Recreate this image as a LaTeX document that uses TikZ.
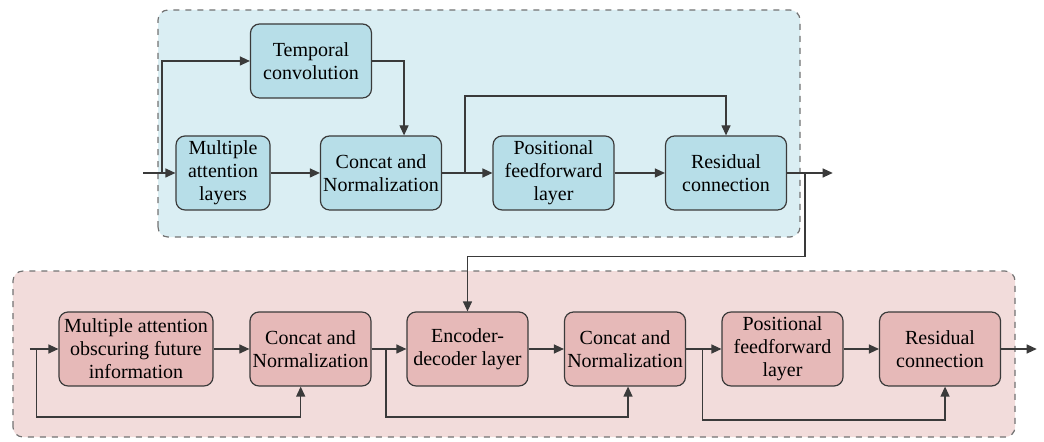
\documentclass[tikz,border=0pt]{standalone}
\usepackage{fontspec}
\setmainfont{LiberationSerif}[Extension=.ttf,UprightFont=*-Regular,BoldFont=*-Bold]
\usetikzlibrary{arrows.meta}
\definecolor{encback}{HTML}{DAEEF3}
\definecolor{encnode}{HTML}{B7DEE8}
\definecolor{decback}{HTML}{F2DCDB}
\definecolor{decnode}{HTML}{E6B9B8}
\definecolor{lncol}{HTML}{3A3A3A}
\begin{document}
\begin{tikzpicture}[
    font=\fontsize{10}{11.5}\selectfont,
    blk/.style={draw=lncol,line width=0.6pt,rounded corners=4.5pt,align=center,
      minimum width=2.126cm,minimum height=1.300cm,inner sep=1pt},
    encblk/.style={blk,fill=encnode},
    decblk/.style={blk,fill=decnode},
    group/.style={draw=gray!90!black,dashed,line width=0.6pt,rounded corners=5pt},
    arr/.style={draw=lncol,line width=0.6pt,-{Triangle[length=5pt,width=4.5pt]}},
    ln/.style={draw=lncol,line width=0.6pt}]
    \useasboundingbox (0,0) rectangle (18.346,7.750);
    % dashed group boxes
    \draw[group,fill=encback] (2.777,3.585) rectangle (14.058,7.574);
    \draw[group,fill=decback] (0.228,0.070) rectangle (17.837,2.987);
    % encoder
    \node[encblk] (tc) at (5.465,6.678){Temporal\\convolution};
    \node[encblk,minimum width=1.652cm] (ma) at (3.919,4.710){Multiple\\attention\\layers};
    \node[encblk] (cn) at (6.695,4.710){Concat and\\Normalization};
    \node[encblk] (pf) at (9.727,4.710){Positional\\feedforward\\layer};
    \node[encblk] (rc) at (12.758,4.710){Residual\\connection};
    \coordinate (ein) at (2.513,4.710);
    \coordinate (esp) at (2.847,4.710);
    \coordinate (eout) at (14.633,4.710);
    \coordinate (esk) at (8.171,4.710);
    \coordinate (etop) at (8.171,6.063);
    \coordinate (edn) at (14.146,4.710);
    \coordinate (elow) at (14.146,3.239);
    \draw[arr] (ein) -- (ma.west);
    \draw[arr] (esp) |- (tc.west);
    \draw[arr] (tc.east) -| ([xshift=0.405cm]cn.north);
    \draw[arr] (ma.east) -- (cn.west);
    \draw[arr] (cn.east) -- (pf.west);
    \draw[arr] (esk) -- (etop) -| (rc.north);
    \draw[arr] (pf.east) -- (rc.west);
    \draw[arr] (rc.east) -- (eout);
    % decoder
    \node[decblk,minimum width=2.706cm] (mo) at (2.390,1.617){Multiple attention\\obscuring future\\information};
    \node[decblk] (cn1) at (5.456,1.617){Concat and\\Normalization};
    \node[decblk] (ed) at (8.215,1.617){Encoder-\\decoder layer};
    \node[decblk] (cn2) at (10.983,1.617){Concat and\\Normalization};
    \node[decblk] (pf2) at (13.751,1.617){Positional\\feedforward\\layer};
    \node[decblk] (rc2) at (16.519,1.617){Residual\\connection};
    \coordinate (din) at (0.527,1.617);
    \coordinate (dsp1) at (0.645,1.617);
    \coordinate (dsp2) at (6.783,1.617);
    \coordinate (dsp3) at (12.341,1.617);
    \coordinate (dout) at (18.218,1.617);
    \draw[arr] (elow) -| (ed.north);
    \draw[ln] (edn) -- (elow);
    \draw[arr] (din) -- (mo.west);
    \draw[arr] (dsp1) -- (0.645,0.422) -| ([xshift=-0.172cm]cn1.south);
    \draw[arr] (mo.east) -- (cn1.west);
    \draw[arr] (cn1.east) -- (ed.west);
    \draw[arr] (dsp2) -- (6.783,0.422) -| ([xshift=0.053cm]cn2.south);
    \draw[arr] (ed.east) -- (cn2.west);
    \draw[arr] (cn2.east) -- (pf2.west);
    \draw[arr] (dsp3) -- (12.341,0.369) -| ([xshift=0.088cm]rc2.south);
    \draw[arr] (pf2.east) -- (rc2.west);
    \draw[arr] (rc2.east) -- (dout);
  \end{tikzpicture}
\end{document}
